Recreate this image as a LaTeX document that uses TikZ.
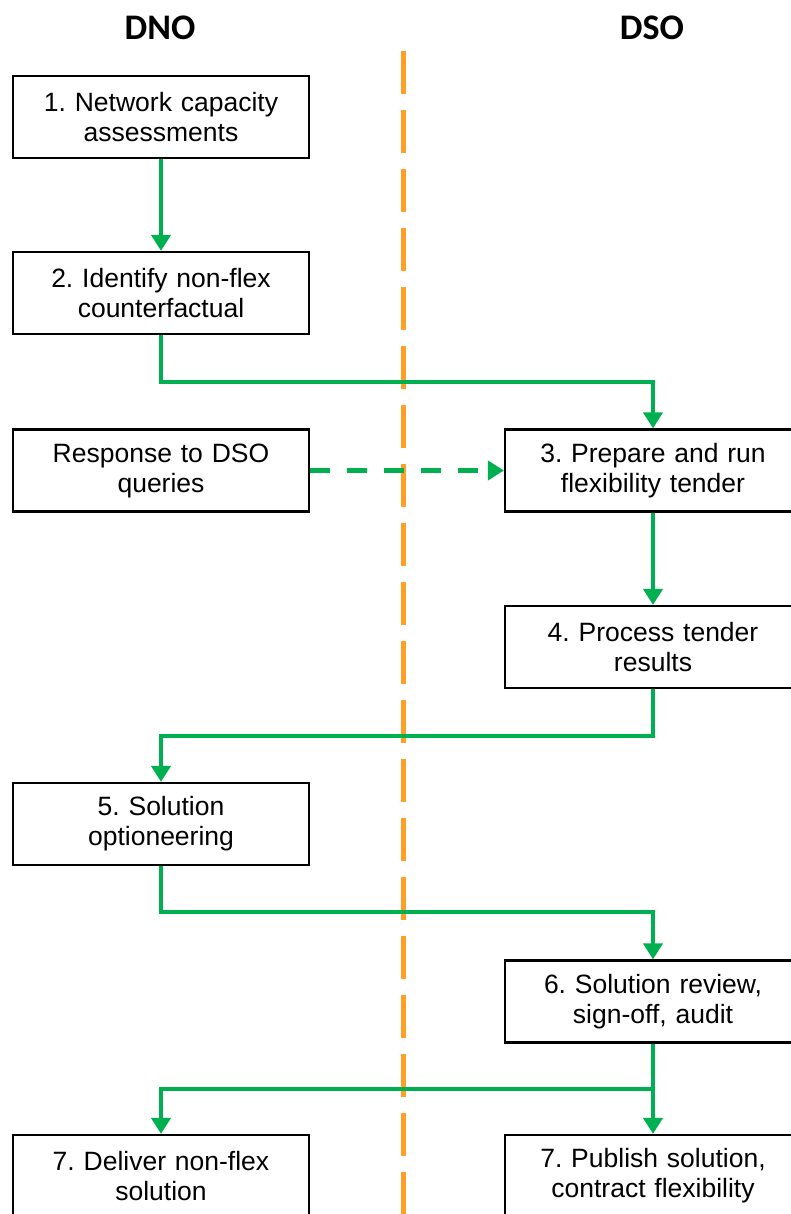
\documentclass[tikz,border=0pt]{standalone}
\usepackage{fontspec}
\setmainfont{Liberation Sans}
\newfontfamily\headfont{Carlito}
\usetikzlibrary{arrows.meta}
\frenchspacing
\definecolor{flowgreen}{HTML}{00B050}
\definecolor{divorange}{HTML}{FFA024}
\tikzset{
  stepbox/.style={draw=black, line width=2.2pt, fill=white, minimum width=296pt, minimum height=82pt,
    inner sep=0pt, align=center, text width=290pt, font=\fontsize{26.5}{30}\selectfont},
  head/.style={font=\headfont\bfseries\fontsize{36}{40}\selectfont},
  flow/.style={draw=flowgreen, line width=4.5pt, -{Triangle[width=19pt 0,length=16pt 0]}},
  divider/.style={draw=divorange, line width=5pt, dash pattern=on 43pt off 16pt}
}
\begin{document}
\begin{tikzpicture}[x=1pt,y=-1pt]
\useasboundingbox (0,0) rectangle (791,1214);
\clip (0,0) rectangle (791,1214);
\coordinate (divtop) at (403,51);
\coordinate (divbot) at (403,1220);
\draw[divider] (divtop) -- (divbot);
\node[head] (dno) at (160,28) {DNO};
\node[head] (dso) at (652,28) {DSO};
\node[stepbox] (s1) at (161,117) {1. Network capacity\\assessments};
\node[stepbox] (s2) at (161,293) {2. Identify non-flex\\counterfactual};
\node[stepbox] (resp) at (161,470.5) {Response to DSO\\queries};
\node[stepbox] (s3) at (653,470.5) {3. Prepare and run\\flexibility tender};
\node[stepbox] (s4) at (653,647) {4. Process tender\\results};
\node[stepbox] (s5) at (161,824) {5. Solution\\optioneering};
\node[stepbox] (s6) at (653,1001.5) {6. Solution review,\\sign-off, audit};
\node[stepbox] (s7a) at (161,1176) {7. Deliver non-flex\\solution};
\node[stepbox] (s7b) at (653,1176) {7. Publish solution,\\contract flexibility};
\coordinate (split) at (653,1089);
\draw[flow] (s1) -- (s2);
\draw[flow] (s2.south) |- (403,382) -| (s3.north);
\draw[flow, dash pattern=on 20pt off 17pt] (resp.east) -- (s3.west);
\draw[flow] (s3) -- (s4);
\draw[flow] (s4.south) |- (403,736) -| (s5.north);
\draw[flow] (s5.south) |- (403,912) -| (s6.north);
\draw[flow] (s6.south) -- (s7b.north);
\draw[flow] (split) -| (s7a.north);
\end{tikzpicture}
\end{document}
